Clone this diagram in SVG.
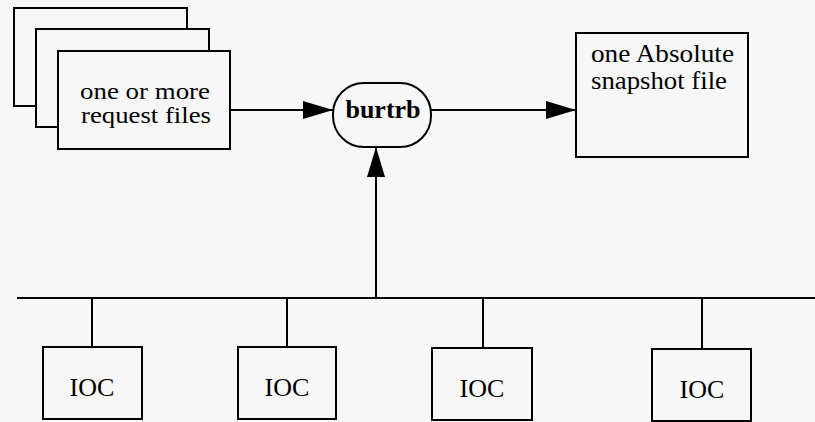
<svg xmlns="http://www.w3.org/2000/svg" width="815" height="422" viewBox="0 0 815 422">
  <style>
    .box { fill: #f7f7f7; stroke: #000; stroke-width: 2; }
    .line { fill: none; stroke: #000; stroke-width: 2; }
    .txt { font-family: "Liberation Serif", "Times New Roman", serif; font-size: 26px; fill: #000; }
    .small { font-size: 24px; }
    .bold { font-weight: bold; }
  </style>
  <defs>
    <marker id="arrow" viewBox="0 0 30 18" refX="30" refY="9" markerWidth="30" markerHeight="18" markerUnits="userSpaceOnUse" orient="auto">
      <path d="M0,0 L30,9 L0,18 Z" fill="#000"/>
    </marker>
  </defs>
  <rect width="815" height="422" fill="#f7f7f7"/>

  <!-- stacked request files -->
  <g id="request-files">
    <rect class="box" x="14" y="8" width="173" height="98"/>
    <rect class="box" x="36" y="29" width="173" height="98"/>
    <rect class="box" x="58" y="51" width="172" height="98"/>
    <text class="txt small" x="145" y="99" text-anchor="middle" textLength="130" lengthAdjust="spacingAndGlyphs">one or more</text>
    <text class="txt small" x="146" y="123" text-anchor="middle" textLength="130" lengthAdjust="spacingAndGlyphs">request files</text>
  </g>

  <!-- burtrb program -->
  <g id="burtrb">
    <rect class="box" x="333" y="83" width="98" height="64" rx="31" ry="31"/>
    <text class="txt bold" x="383" y="118" text-anchor="middle">burtrb</text>
  </g>

  <!-- snapshot output -->
  <g id="snapshot-file">
    <rect class="box" x="576" y="33" width="172" height="124"/>
    <text class="txt" x="591" y="62" textLength="143" lengthAdjust="spacingAndGlyphs">one Absolute</text>
    <text class="txt" x="591" y="89" textLength="136" lengthAdjust="spacingAndGlyphs">snapshot file</text>
  </g>

  <!-- IOCs on the network -->
  <g id="ioc-1">
    <rect class="box" x="43" y="347" width="99" height="72"/>
    <text class="txt" x="92" y="396" text-anchor="middle">IOC</text>
  </g>
  <g id="ioc-2">
    <rect class="box" x="238" y="347" width="98" height="72"/>
    <text class="txt" x="287" y="396" text-anchor="middle">IOC</text>
  </g>
  <g id="ioc-3">
    <rect class="box" x="432" y="348" width="100" height="72"/>
    <text class="txt" x="482" y="397" text-anchor="middle">IOC</text>
  </g>
  <g id="ioc-4">
    <rect class="box" x="652" y="349" width="99" height="72"/>
    <text class="txt" x="702" y="398" text-anchor="middle">IOC</text>
  </g>

  <!-- connectors -->
  <g id="connectors">
    <line class="line" x1="230" y1="110" x2="333" y2="110" marker-end="url(#arrow)"/>
    <line class="line" x1="431" y1="110" x2="576" y2="110" marker-end="url(#arrow)"/>
    <line class="line" x1="376" y1="298" x2="376" y2="147" marker-end="url(#arrow)"/>
    <!-- network bus -->
    <line class="line" x1="17" y1="298" x2="815" y2="298"/>
    <line class="line" x1="92" y1="298" x2="92" y2="347"/>
    <line class="line" x1="287" y1="298" x2="287" y2="347"/>
    <line class="line" x1="483" y1="298" x2="483" y2="348"/>
    <line class="line" x1="702" y1="298" x2="702" y2="349"/>
  </g>
</svg>
